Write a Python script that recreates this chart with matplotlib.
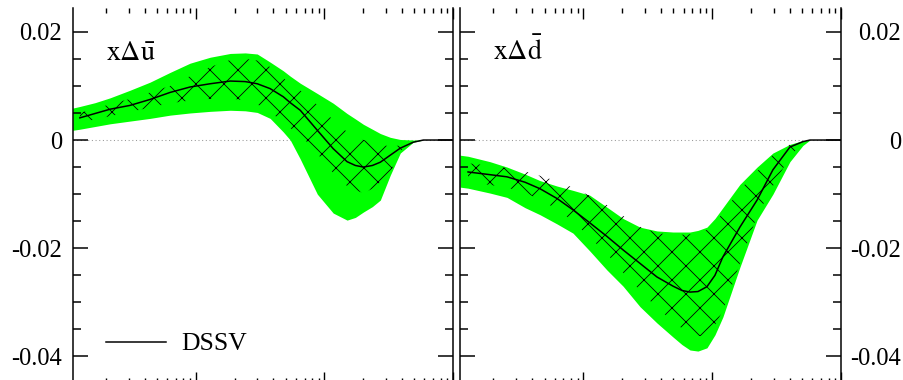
import numpy as np
import matplotlib
matplotlib.use('Agg')
import matplotlib.pyplot as plt
from matplotlib.ticker import FixedLocator, FixedFormatter, MultipleLocator, LogLocator, NullFormatter

plt.rcParams['font.family'] = ['Liberation Serif', 'DejaVu Serif']
plt.rcParams['mathtext.fontset'] = 'stix'
plt.rcParams['axes.unicode_minus'] = False
plt.rcParams['hatch.linewidth'] = 0.7

nan = np.nan

# eixos y
ytick_vals = [-0.04, -0.02, 0.0, 0.02]
ytick_labels = ['-0.04', '-0.02', '0', '0.02']

# painel esquerdo: x*Delta ubar
xl = [0.0011, 0.00125, 0.00164, 0.00215, 0.00307, 0.0044, 0.0063, 0.0090, 0.0129,
      0.0185, 0.0242, 0.0300, 0.0378, 0.0478, 0.0542, 0.0648, 0.0880, 0.117, 0.150,
      0.174, 0.201, 0.236, 0.272, 0.325, 0.389, 0.491, 0.588, 0.667, 1.0]
u_central = [nan, 0.0041, 0.0049, 0.0057, 0.0064, 0.0075, 0.0088, 0.0098, 0.0104,
             0.0109, 0.0108, 0.0104, 0.0095, 0.0080, 0.0069, 0.0055, 0.0018, -0.0016, -0.0040,
             -0.0047, -0.0050, -0.0047, -0.0041, -0.0028, -0.0015, -0.0004, 0.0, 0.0, 0.0]
u_band_hi = [0.0059, 0.0062, 0.0069, 0.0078, 0.0092, 0.0107, 0.0125, 0.0142, 0.0153,
             0.0160, 0.0161, 0.0159, 0.0144, 0.0128, 0.0118, 0.0105, 0.0086, 0.0068, 0.0049,
             0.0039, 0.0029, 0.0020, 0.0012, 0.0005, 0.0001, 0.0, 0.0, 0.0, 0.0]
u_band_lo = [0.0018, 0.0020, 0.0025, 0.0030, 0.0035, 0.0040, 0.0046, 0.0050, 0.0053,
             0.0055, 0.0054, 0.0051, 0.0040, 0.0015, 0.0, -0.0035, -0.0100, -0.0135, -0.0148,
             -0.0143, -0.0133, -0.0123, -0.0111, -0.0065, -0.0024, -0.0004, 0.0, 0.0, 0.0]
u_hatch_hi = [nan, 0.0050, 0.0058, 0.0066, 0.0076, 0.0088, 0.0100, 0.0118, 0.0135,
              0.0148, 0.0150, 0.0147, 0.0135, 0.0115, 0.0103, 0.0092, 0.0065, 0.0037, 0.0015,
              0.0008, 0.0, -0.0004, -0.0008, -0.0012, -0.0010, -0.0002, 0.0, 0.0, 0.0]
u_hatch_lo = [nan, 0.0032, 0.0038, 0.0044, 0.0052, 0.0060, 0.0068, 0.0073, 0.0076,
              0.0077, 0.0073, 0.0066, 0.0052, 0.0033, 0.0022, 0.0010, -0.0025, -0.0061, -0.0085,
              -0.0093, -0.0098, -0.0090, -0.0078, -0.0060, -0.0020, -0.0003, 0.0, 0.0, 0.0]

# painel direito: x*Delta dbar
xr = [0.0011, 0.00127, 0.00188, 0.00255, 0.00352, 0.0046, 0.00623, 0.00829, 0.0112,
      0.0152, 0.0203, 0.0275, 0.0372, 0.0496, 0.0582, 0.0672, 0.0775, 0.091, 0.105,
      0.121, 0.164, 0.223, 0.296, 0.401, 0.506, 0.574, 1.0]
d_central = [nan, -0.0059, -0.0064, -0.0068, -0.0078, -0.0090, -0.0108, -0.0129, -0.0153,
             -0.0178, -0.0203, -0.0228, -0.0253, -0.0270, -0.0278, -0.0281, -0.0280, -0.0271,
             -0.0250, -0.0216, -0.0161, -0.0111, -0.0055, -0.0013, -0.0003, 0.0, 0.0]
d_band_hi = [-0.0028, -0.0030, -0.0040, -0.0050, -0.0063, -0.0075, -0.0085, -0.0093, -0.0102,
             -0.0124, -0.0145, -0.0161, -0.0168, -0.0170, -0.0170, -0.0170, -0.0167, -0.0161,
             -0.0145, -0.0125, -0.0082, -0.0050, -0.0024, -0.0008, -0.0001, 0.0, 0.0]
d_band_lo = [-0.0087, -0.0089, -0.0098, -0.0106, -0.0125, -0.0138, -0.0155, -0.0172, -0.0205,
             -0.0240, -0.0270, -0.0308, -0.0338, -0.0364, -0.0378, -0.0388, -0.0390, -0.0384,
             -0.0360, -0.0327, -0.0235, -0.0148, -0.0100, -0.0040, -0.0010, 0.0, 0.0]
d_hatch_hi = [nan, -0.0043, -0.0047, -0.0052, -0.0058, -0.0066, -0.0076, -0.0088, -0.0103,
              -0.0120, -0.0140, -0.0160, -0.0172, -0.0175, -0.0175, -0.0174, -0.0171, -0.0166,
              -0.0152, -0.0135, -0.0092, -0.0058, -0.0027, -0.0008, -0.0001, 0.0, 0.0]
d_hatch_lo = [nan, -0.0078, -0.0083, -0.0088, -0.0097, -0.0110, -0.0128, -0.0150, -0.0180,
              -0.0210, -0.0245, -0.0278, -0.0310, -0.0335, -0.0348, -0.0358, -0.0362, -0.0362,
              -0.0342, -0.0315, -0.0228, -0.0140, -0.0085, -0.0030, -0.0005, 0.0, 0.0]

DPI = 84
W, H = 903, 380
fig = plt.figure(figsize=(W / DPI, H / DPI), dpi=DPI)
ax1 = fig.add_axes([72.7 / W, -3 / H, 380.3 / W, 375 / H])
ax2 = fig.add_axes([460 / W, -3 / H, 381 / W, 375 / H])


def estilo(ax, lado):
    ax.set_xscale('log')
    ax.set_xlim(0.0011, 1)
    ax.set_ylim(-0.0449, 0.0244)
    ax.spines['top'].set_visible(False)
    ax.spines['bottom'].set_visible(False)
    for s in ('left', 'right'):
        ax.spines[s].set_linewidth(1.3)
    ax.yaxis.set_major_locator(FixedLocator(ytick_vals))
    ax.yaxis.set_major_formatter(FixedFormatter(ytick_labels))
    ax.yaxis.set_minor_locator(MultipleLocator(0.005))
    ax.tick_params(axis='y', which='both', direction='in', left=True, right=True,
                   width=1.3, labelsize=21,
                   labelleft=(lado == 'left'), labelright=(lado == 'right'))
    ax.tick_params(axis='y', which='major', length=12.9, pad=(9.2 if lado == 'left' else 51.4))
    ax.tick_params(axis='y', which='minor', length=6.9)
    ax.xaxis.set_major_locator(LogLocator(base=10, numticks=10))
    ax.xaxis.set_minor_locator(LogLocator(base=10, subs=np.arange(2, 10), numticks=40))
    ax.xaxis.set_major_formatter(NullFormatter())
    ax.xaxis.set_minor_formatter(NullFormatter())
    ax.tick_params(axis='x', which='both', direction='in', top=True, bottom=True,
                   labelbottom=False, width=1.2)
    ax.tick_params(axis='x', which='major', length=9.4)
    ax.tick_params(axis='x', which='minor', length=3.9)
    # linha pontilhada no zero
    ax.axhline(0, color='#999999', lw=0.9, ls=(0, (1, 2.5)), zorder=0)


def painel(ax, x, lo, hi, hlo, hhi, c):
    ax.fill_between(x, lo, hi, color='#00ff00', lw=0, zorder=1)
    ax.fill_between(x, hlo, hhi, facecolor='none', edgecolor='black', hatch='x', lw=0, zorder=2)
    ax.plot(x, c, color='black', lw=1.3, zorder=3, label='DSSV')


painel(ax1, xl, u_band_lo, u_band_hi, u_hatch_lo, u_hatch_hi, u_central)
painel(ax2, xr, d_band_lo, d_band_hi, d_hatch_lo, d_hatch_hi, d_central)
estilo(ax1, 'left')
estilo(ax2, 'right')

for lbl in ax2.get_yticklabels():
    lbl.set_horizontalalignment('right')

ax1.text(0.088, 0.861, r'$\mathrm{x}\Delta\bar{\mathrm{u}}$', transform=ax1.transAxes,
         fontsize=24, va='baseline')
ax2.text(0.087, 0.861, r'$\mathrm{x}\Delta\bar{\mathrm{d}}$', transform=ax2.transAxes,
         fontsize=24, va='baseline')

ax1.legend(loc='center left', bbox_to_anchor=(0.0876, 0.104), frameon=False,
           fontsize=22, handlelength=2.35, handletextpad=0.6, borderpad=0, borderaxespad=0)

fig.savefig('out.png', dpi=DPI)
